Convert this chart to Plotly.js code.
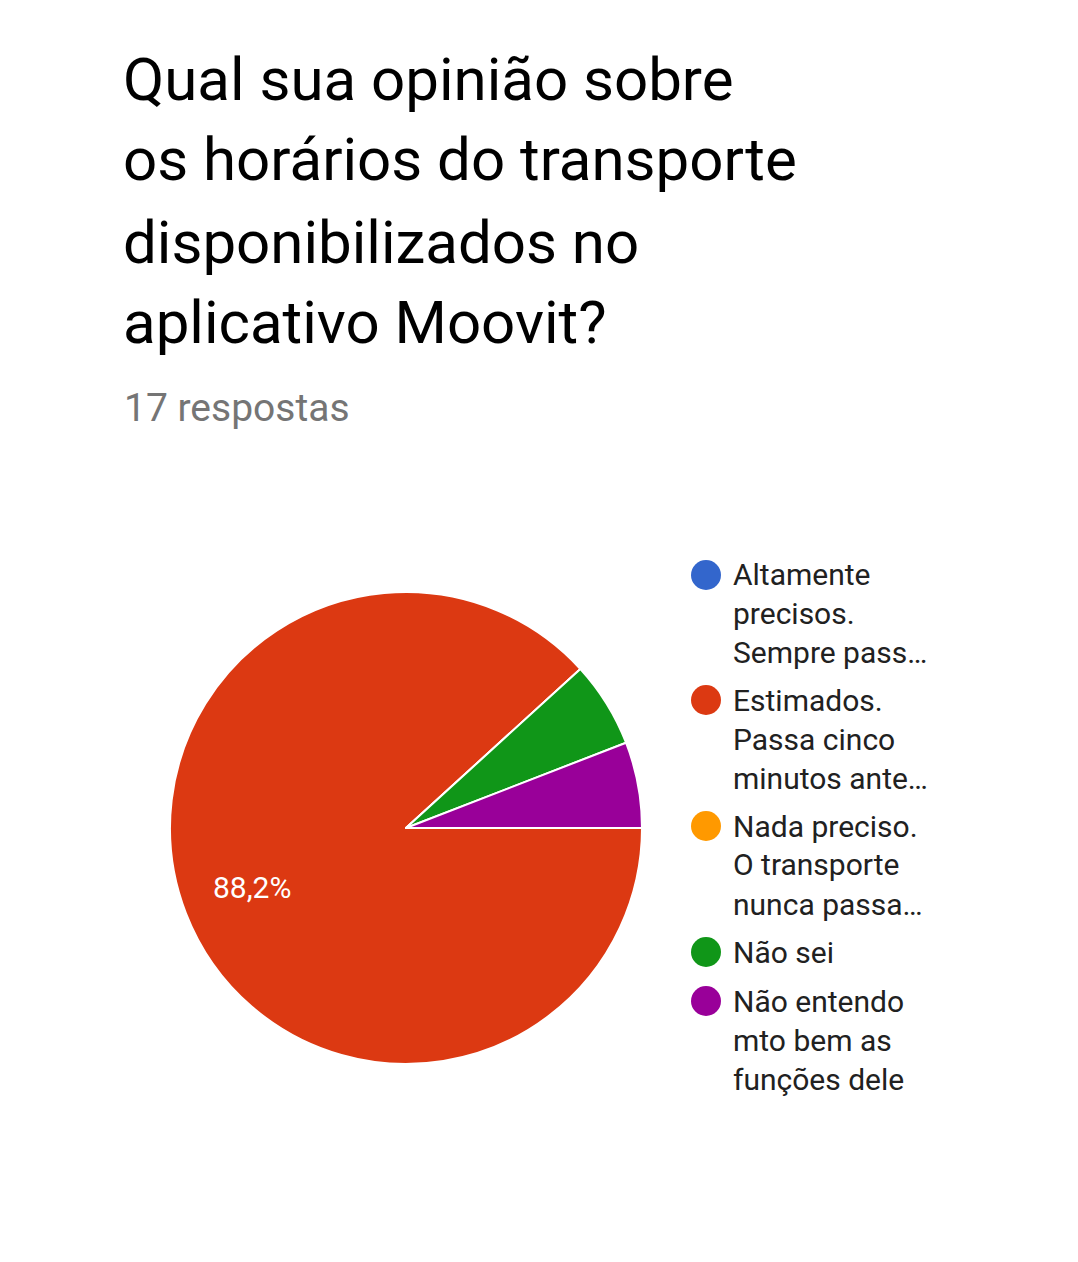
<!DOCTYPE html>
<html>
<head>
<meta charset="utf-8">
<script src="https://cdn.plot.ly/plotly-3.0.1.min.js"></script>
<style>html,body{margin:0;padding:0;background:#fff;}#chart{width:1078px;height:1262px;}</style>
</head>
<body>
<div id="chart"></div>
<script>
// ---- data ----
var categories = [
  "Altamente precisos. Sempre passa no horário",
  "Estimados. Passa cinco minutos antes ou depois",
  "Nada preciso. O transporte nunca passa no horário",
  "Não sei",
  "Não entendo mto bem as funções dele"
];
var responses = [0, 15, 0, 1, 1];
var sliceColors = ["#3366cc", "#dc3912", "#ff9900", "#109618", "#990099"];
var legendLines = [
  ["Altamente", "precisos.", "Sempre pass\u2026"],
  ["Estimados.", "Passa cinco", "minutos ante\u2026"],
  ["Nada preciso.", "O transporte", "nunca passa\u2026"],
  ["Não sei"],
  ["Não entendo", "mto bem as", "funções dele"]
];
var titleLines = ["Qual sua opinião sobre", "os horários do transporte", "disponibilizados no", "aplicativo Moovit?"];
var subtitle = "17 respostas";

// ---- layout helpers ----
var W = 1078, H = 1262;
function px(x) { return x / W; }
function py(y) { return 1 - y / H; }

var total = responses.reduce(function (a, b) { return a + b; }, 0);

// pie geometry (pixels)
var cx = 406, cy0 = 828, R = 236;

var trace = {
  type: "pie",
  labels: categories,
  values: responses,
  sort: false,
  direction: "clockwise",
  rotation: 90,
  marker: { colors: sliceColors, line: { color: "#ffffff", width: 2 } },
  textinfo: "none",
  hoverinfo: "label+percent",
  showlegend: false,
  domain: { x: [px(cx - R), px(cx + R)], y: [py(cy0 + R), py(cy0 - R)] }
};

var annotations = [];

// percentage labels for slices >= 10%, placed at 0.7 radius on the slice mid-angle
var cum = 0;
responses.forEach(function (v, i) {
  var frac = v / total;
  var mid = 90 + 360 * (cum + frac / 2);
  cum += frac;
  if (frac < 0.1) return;
  var a = mid * Math.PI / 180;
  var lx = cx + 0.7 * R * Math.sin(a);
  var ly = cy0 - 0.7 * R * Math.cos(a);
  annotations.push({
    xref: "paper", yref: "paper", x: px(lx), y: py(ly),
    xanchor: "center", yanchor: "middle", showarrow: false,
    text: (frac * 100).toFixed(1).replace(".", ",") + "%",
    font: { family: "Roboto", size: 30, color: "#ffffff" }
  });
});

var titleY = [80, 160, 242, 322];
titleLines.forEach(function (t, i) {
  annotations.push({
    xref: "paper", yref: "paper", x: px(121), y: py(titleY[i]),
    xanchor: "left", yanchor: "middle", showarrow: false, text: t,
    font: { family: "Roboto", size: 60, color: "#000000" }
  });
});
annotations.push({
  xref: "paper", yref: "paper", x: px(122), y: py(408),
  xanchor: "left", yanchor: "middle", showarrow: false, text: subtitle,
  font: { family: "Roboto", size: 39, color: "#757575" }
});

var shapes = [];
var itemTop = [575, 700, 826, 952, 1001];
var lineGap = 39;
legendLines.forEach(function (lines, i) {
  var cy = itemTop[i];
  shapes.push({
    type: "circle", xref: "paper", yref: "paper",
    x0: px(706 - 15), x1: px(706 + 15), y0: py(cy + 15), y1: py(cy - 15),
    fillcolor: sliceColors[i], line: { width: 0 }
  });
  lines.forEach(function (t, j) {
    annotations.push({
      xref: "paper", yref: "paper", x: px(731), y: py(cy + j * lineGap),
      xanchor: "left", yanchor: "middle", showarrow: false, text: t,
      font: { family: "Roboto", size: 30, color: "#212121" }
    });
  });
});

var layout = {
  width: W, height: H, autosize: false,
  margin: { l: 0, r: 0, t: 0, b: 0, pad: 0 },
  paper_bgcolor: "#ffffff",
  separators: ",.",
  showlegend: false,
  annotations: annotations,
  shapes: shapes
};

Plotly.newPlot("chart", [trace], layout, { displayModeBar: false, staticPlot: true });
</script>
</body>
</html>
